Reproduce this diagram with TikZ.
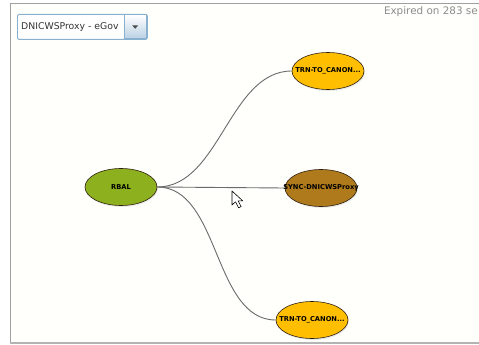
\documentclass[tikz,border=0pt]{standalone}
\usepackage{fontspec}
\setmainfont{DejaVu Sans}
\usetikzlibrary{shapes.geometric,shadows,calc,backgrounds}
\definecolor{frameg}{HTML}{A0A0A0}
\definecolor{rbalg}{HTML}{8CB01E}
\definecolor{trny}{HTML}{FFBF00}
\definecolor{syncb}{HTML}{AE7A1C}
\definecolor{edgeg}{HTML}{6A6A6A}
\definecolor{ddblue}{HTML}{8AB0D0}
\newcommand{\zb}[1]{\makebox[0pt]{#1}}
\begin{document}
\begin{tikzpicture}[x=1pt,y=-1pt,
  ent/.style={ellipse,draw=black!75!brown,line width=0.6pt,minimum width=72pt,minimum height=37pt,inner sep=0pt,
     font=\fontsize{6.7}{7}\selectfont\bfseries, drop shadow={opacity=0.15,shadow xshift=1pt,shadow yshift=-1.5pt}},
  link/.style={draw=edgeg,line width=0.9pt}]
\useasboundingbox (0,0) rectangle (479,345);
\begin{scope}[on background layer]
\fill[white!99!yellow] (10,3) rectangle (479,342);
\end{scope}
% frame
\draw[frameg,line width=0.8pt] (479,3) -- (10,3) -- (10,342);
\draw[frameg!80,line width=2pt] (10,343) -- (479,343);
% dropdown
\node[draw=ddblue,line width=0.8pt,rounded corners=1.5pt,fill=white,minimum width=130pt,minimum height=25pt,anchor=north west,inner sep=0pt] (dd) at (17,14) {};
\node[anchor=west,font=\fontsize{9.3}{10}\selectfont,inner sep=0pt,text=black!80] (ddt) at (21,27) {DNICWSProxy - eGov};
\node[draw=ddblue,line width=0.6pt,top color=white,bottom color=ddblue!60,minimum width=22pt,minimum height=24pt,anchor=north east,inner sep=0pt] (ddb) at (146.5,14.5) {};
\fill[black!70] ($(ddb.center)+(-3,-1.5)$) -- ++(6,0) -- ++(-3,3.5) -- cycle;
% expired text
\node[anchor=east,text=black!45,font=\fontsize{10.4}{12}\selectfont,inner sep=0pt] (exp) at (478,12) {Expired on 283 se};
% nodes
\node[ent,fill=rbalg] (rbal) at (121,187) {\zb{RBAL}};
\node[ent,fill=trny] (trn1) at (328,71) {\zb{TRN-TO\_CANON...}};
\node[ent,fill=syncb] (sync) at (321,188) {\zb{SYNC-DNICWSProxy}};
\node[ent,fill=trny] (trn2) at (312,320) {\zb{TRN-TO\_CANON...}};
% connectors
\begin{scope}[on background layer]
\path[link] (rbal.east) to[out=0,in=180,looseness=0.9] (trn1.west);
\path[link] (rbal.east) -- (sync.west);
\path[link] (rbal.east) to[out=0,in=180,looseness=0.9] (trn2.west);
\end{scope}
% cursor
\coordinate (cur) at (232,191);
\draw[fill=white,line width=0.6pt,line join=round] (cur) -- ++(0,14) -- ++(3.5,-3.2) -- ++(3,6) -- ++(2.6,-1.2) -- ++(-3,-5.8) -- ++(4.6,0) -- cycle;
\end{tikzpicture}
\end{document}
